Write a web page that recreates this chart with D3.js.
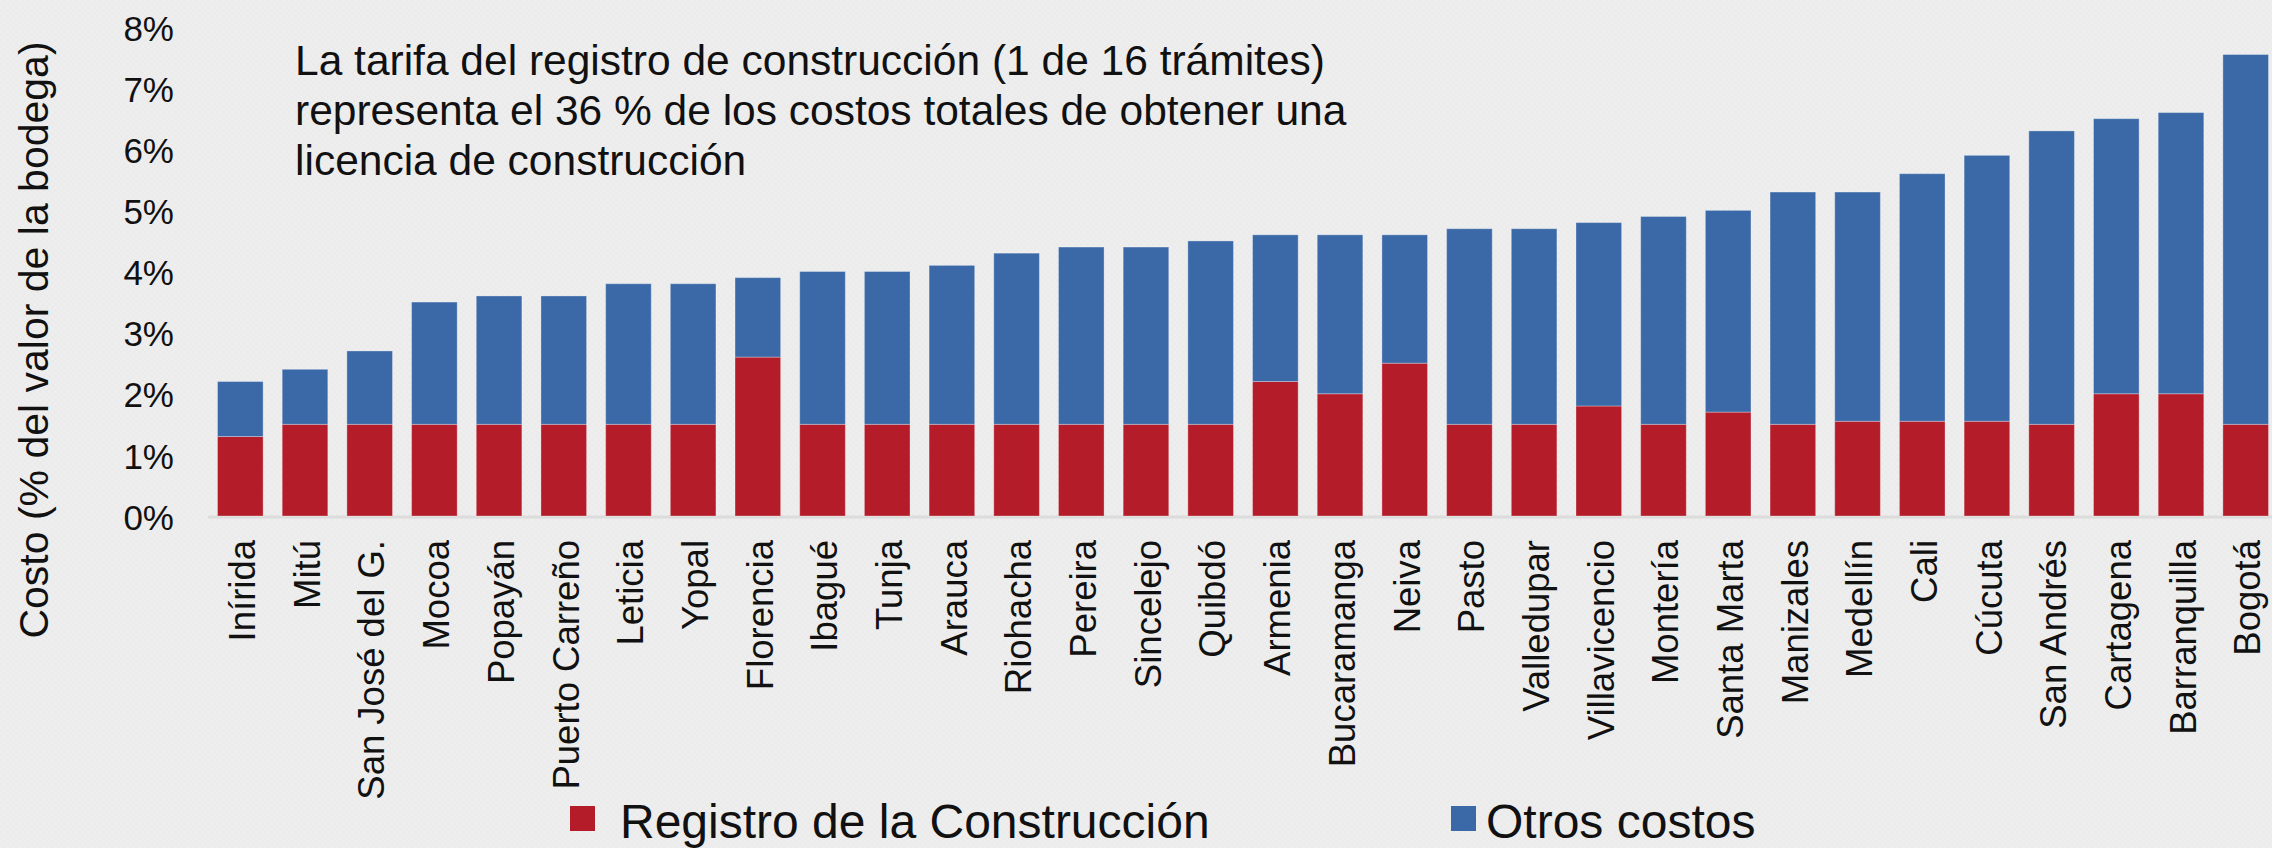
<!DOCTYPE html>
<html>
<head>
<meta charset="utf-8">
<script src="https://cdn.jsdelivr.net/npm/d3@7"></script>
<style>
  html, body { margin: 0; padding: 0; background: #ececec; }
  svg { display: block; font-family: "Liberation Sans", Arial, sans-serif; }
</style>
</head>
<body>
<div id="chart"></div>
<script>
// Cities (sorted by total cost)
const cities = ["Inírida", "Mitú", "San José del G.", "Mocoa", "Popayán", "Puerto Carreño",
  "Leticia", "Yopal", "Florencia", "Ibagué", "Tunja", "Arauca", "Riohacha", "Pereira",
  "Sincelejo", "Quibdó", "Armenia", "Bucaramanga", "Neiva", "Pasto", "Valledupar",
  "Villavicencio", "Montería", "Santa Marta", "Manizales", "Medellín", "Cali", "Cúcuta",
  "San Andrés", "Cartagena", "Barranquilla", "Bogotá"];

// Registro de la Construcción (% of warehouse value)
const registro = [1.3, 1.5, 1.5, 1.5, 1.5, 1.5, 1.5, 1.5, 2.6, 1.5, 1.5, 1.5, 1.5, 1.5,
  1.5, 1.5, 2.2, 2.0, 2.5, 1.5, 1.5, 1.8, 1.5, 1.7, 1.5, 1.55, 1.55, 1.55, 1.5, 2.0, 2.0, 1.5];

// total cost (% of warehouse value)
const totales = [2.2, 2.4, 2.7, 3.5, 3.6, 3.6, 3.8, 3.8, 3.9, 4.0, 4.0, 4.1, 4.3, 4.4,
  4.4, 4.5, 4.6, 4.6, 4.6, 4.7, 4.7, 4.8, 4.9, 5.0, 5.3, 5.3, 5.6, 5.9, 6.3, 6.5, 6.6, 7.55];

const yTicks = [0, 1, 2, 3, 4, 5, 6, 7, 8];
const seriesNames = ["Registro de la Construcción", "Otros costos"];
const colors = ["#b41c2a", "#3b69a7"];
const noteLines = [
  "La tarifa del registro de construcción (1 de 16 trámites)",
  "representa el 36 % de los costos totales de obtener una",
  "licencia de construcción"
];

const width = 2272, height = 848;

const svg = d3.select("#chart").append("svg")
  .attr("width", width)
  .attr("height", height);

// faint textured background
const defs = svg.append("defs");
const pat = defs.append("pattern")
  .attr("id", "tex").attr("width", 6).attr("height", 6)
  .attr("patternUnits", "userSpaceOnUse");
pat.append("rect").attr("width", 6).attr("height", 6).attr("fill", "#ebebeb");
pat.append("rect").attr("width", 3).attr("height", 3).attr("fill", "#eeeeee");
pat.append("rect").attr("x", 3).attr("y", 3).attr("width", 3).attr("height", 3).attr("fill", "#eeeeee");
svg.append("rect").attr("width", width).attr("height", height).attr("fill", "url(#tex)");

const x = d3.scaleBand()
  .domain(cities)
  .range([208, 2278])
  .paddingInner(0.295)
  .paddingOuter(0.147);

const y = d3.scaleLinear()
  .domain([0, 8])
  .range([516, 27]);

// stacked data
const rows = cities.map((c, i) => ({ city: c, registro: registro[i], otros: +(totales[i] - registro[i]).toFixed(2) }));
const stack = d3.stack().keys(["registro", "otros"])(rows);

// baseline
svg.append("line")
  .attr("x1", 208).attr("x2", width)
  .attr("y1", y(0) + 1).attr("y2", y(0) + 1)
  .attr("stroke", "#dcdcdc")
  .attr("stroke-width", 3);

svg.selectAll("g.series")
  .data(stack)
  .enter()
  .append("g")
  .attr("class", "series")
  .attr("fill", (d, i) => colors[i])
  .selectAll("rect")
  .data(d => d)
  .enter()
  .append("rect")
  .attr("x", d => x(d.data.city))
  .attr("width", x.bandwidth())
  .attr("y", d => y(d[1]))
  .attr("height", d => y(d[0]) - y(d[1]))
  .attr("stroke", "rgba(255,255,255,0.3)")
  .attr("stroke-width", 1);

// y axis labels
const yAxis = d3.axisLeft(y)
  .tickValues(yTicks)
  .tickFormat(d => d + "%")
  .tickSize(0)
  .tickPadding(0);

const gy = svg.append("g")
  .attr("transform", "translate(174,2)")
  .call(yAxis);
gy.select(".domain").remove();
gy.selectAll("text")
  .attr("font-size", 35)
  .attr("font-family", "Liberation Sans, Arial, sans-serif")
  .attr("fill", "#111");

// x axis labels (rotated)
const xAxis = d3.axisBottom(x).tickSize(0).tickPadding(0);
const gx = svg.append("g")
  .attr("transform", "translate(0,540)")
  .call(xAxis);
gx.select(".domain").remove();
gx.selectAll("text")
  .attr("font-size", 36.5)
  .attr("font-family", "Liberation Sans, Arial, sans-serif")
  .attr("fill", "#111")
  .attr("text-anchor", "end")
  .attr("dy", "0.35em")
  .attr("transform", "rotate(-90)")
  .attr("x", 0)
  .attr("y", 0);
gx.selectAll(".tick").attr("transform", d => `translate(${x(d) + x.bandwidth() / 2 + 2},0)`);

// y axis title
svg.append("text")
  .attr("transform", `translate(48,${340}) rotate(-90)`)
  .attr("text-anchor", "middle")
  .attr("font-size", 41)
  .attr("fill", "#111")
  .text("Costo (% del valor de la bodega)");

// annotation
svg.append("g")
  .selectAll("text")
  .data(noteLines)
  .enter()
  .append("text")
  .attr("x", 295)
  .attr("y", (d, i) => 75 + i * 50)
  .attr("font-size", 42.5)
  .attr("fill", "#111")
  .text(d => d);

// legend
const legendX = [570, 1451];
const leg = svg.append("g")
  .selectAll("g")
  .data(seriesNames)
  .enter()
  .append("g")
  .attr("transform", (d, i) => `translate(${legendX[i]},0)`);
leg.append("rect")
  .attr("x", 0).attr("y", 806)
  .attr("width", 25).attr("height", 25)
  .attr("fill", (d, i) => colors[i]);
leg.append("text")
  .attr("x", (d, i) => i === 0 ? 50 : 35)
  .attr("y", 838)
  .attr("font-size", 48)
  .attr("fill", "#111")
  .text(d => d);
</script>
</body>
</html>
